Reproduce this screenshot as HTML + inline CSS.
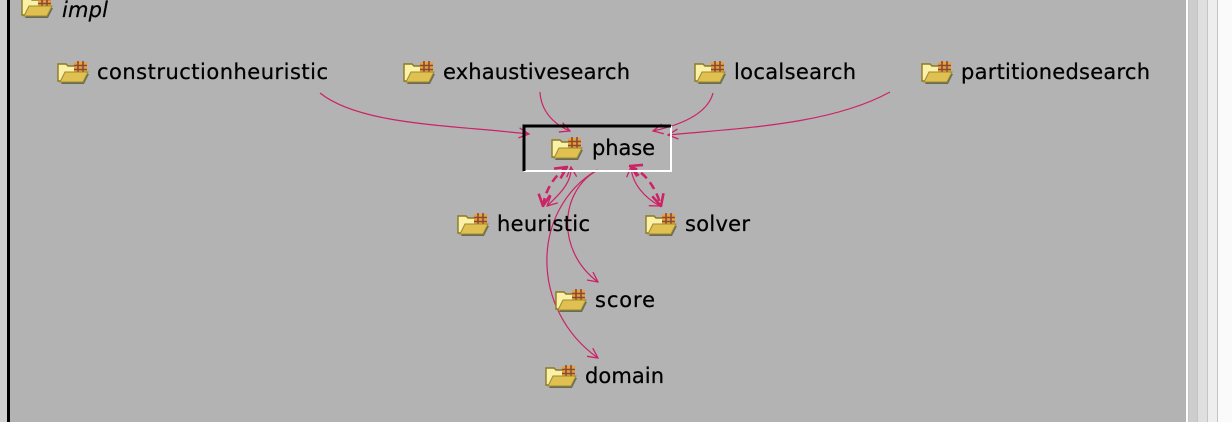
<!DOCTYPE html>
<html><head><meta charset="utf-8"><style>
html,body{margin:0;padding:0;width:1232px;height:422px;overflow:hidden;background:#b3b3b3}
svg{display:block}
text{font-family:"DejaVu Sans","Liberation Sans",sans-serif;font-size:21px;fill:#000;stroke:#000;stroke-width:0.25}
</style></head><body>
<svg width="1232" height="422" viewBox="0 0 1232 422" xmlns="http://www.w3.org/2000/svg">
<defs>
<g id="fold">
 <path d="M1 3 L9 3 L11 5 L18 5 L18 20 L1 20 Z" fill="#fbf0a8" stroke="#8a7a20" stroke-width="1.4"/>
 <rect x="17" y="1" width="13" height="11" fill="#e8a040"/>
 <path d="M17 4.5H30M17 8.5H30M21 0V12M26 0V12" stroke="#8a4a30" stroke-width="1.6"/>
 <path d="M4 23 L9 13 L32 13 L27 23 Z" fill="#6a6a5a"/>
 <path d="M3 21 L8 11 L31 11 L26 21 Z" fill="#e0c050" stroke="#9a8a30" stroke-width="1"/>
</g>
<marker id="ah" viewBox="0 0 12 12" refX="11" refY="6" markerWidth="12" markerHeight="12" markerUnits="userSpaceOnUse" orient="auto-start-reverse">
 <path d="M1 1 L11 6 L1 11" fill="none" stroke="#cc2266" stroke-width="1.3"/>
</marker>
<marker id="ahb" viewBox="0 0 12 12" refX="11" refY="6" markerWidth="14" markerHeight="14" markerUnits="userSpaceOnUse" orient="auto-start-reverse">
 <path d="M1 1 L11 6 L1 11" fill="none" stroke="#cc2266" stroke-width="2.2"/>
</marker>
</defs>
<rect x="0" y="0" width="7" height="422" fill="#d0d0d0"/>
<rect x="7" y="0" width="3" height="422" fill="#000"/>
<rect x="1186" y="0" width="2" height="422" fill="#fff"/>
<rect x="1188" y="0" width="10" height="422" fill="#cdcdcd"/>
<rect x="1198" y="0" width="10" height="422" fill="#dfdfdf"/>
<rect x="1208" y="0" width="10" height="422" fill="#eeeeee"/>
<rect x="1218" y="0" width="14" height="422" fill="#fafafa"/>
<g fill="#c4c4c4"><rect x="1188" y="0" width="1" height="422"/><rect x="1197" y="0" width="1" height="422"/><rect x="1207" y="0" width="1" height="422"/><rect x="1217" y="0" width="1" height="422"/></g>

<g fill="none" stroke="#cc2266" stroke-width="1.2">
<path d="M320 93 C360 125 450 125 529 134" marker-end="url(#ah)"/>
<path d="M540 92 C541 112 555 125 570 131" marker-end="url(#ah)"/>
<path d="M713 93 C708 112 685 124 653 131" marker-end="url(#ah)"/>
<path d="M890 92 C830 125 740 128 668 135" marker-end="url(#ah)"/>
<path d="M547 206 C560 194 572 182 571 167" marker-start="url(#ah)" marker-end="url(#ah)"/>
<path d="M631 167 C632 184 645 198 660 206" marker-start="url(#ah)" marker-end="url(#ah)"/>
<path d="M598 170 C560 190 555 250 598 282" marker-end="url(#ah)"/>
<path d="M597 170 C530 210 530 310 598 358" marker-end="url(#ah)"/>
</g>
<g fill="none" stroke="#cc2266" stroke-width="2.5" stroke-dasharray="8 5">
<path d="M567 167 C555 175 545 190 543 206" marker-start="url(#ahb)" marker-end="url(#ahb)"/>
<path d="M630 166 C645 172 656 188 661 206" marker-start="url(#ahb)" marker-end="url(#ahb)"/>
</g>

<path d="M671 126 L671 171 L524 171" fill="none" stroke="#fff" stroke-width="2"/>
<path d="M524 171 L524 126 L671 126" fill="none" stroke="#000" stroke-width="3"/>

<use href="#fold" x="21" y="-5"/>
<text x="62" y="17" font-style="italic" textLength="46">impl</text>
<use href="#fold" x="57" y="61"/>
<text x="97" y="79" textLength="231">constructionheuristic</text>
<use href="#fold" x="403" y="61"/>
<text x="443" y="79" textLength="187">exhaustivesearch</text>
<use href="#fold" x="694" y="61"/>
<text x="734" y="79" textLength="122">localsearch</text>
<use href="#fold" x="921" y="61"/>
<text x="961" y="79" textLength="189">partitionedsearch</text>
<use href="#fold" x="551" y="137"/>
<text x="592" y="155" textLength="63">phase</text>
<use href="#fold" x="457" y="213"/>
<text x="497" y="231" textLength="93">heuristic</text>
<use href="#fold" x="645" y="213"/>
<text x="685" y="231" textLength="65">solver</text>
<use href="#fold" x="555" y="289"/>
<text x="595" y="307" textLength="60">score</text>
<use href="#fold" x="545" y="365"/>
<text x="585" y="383" textLength="79">domain</text>
</svg>
</body></html>
